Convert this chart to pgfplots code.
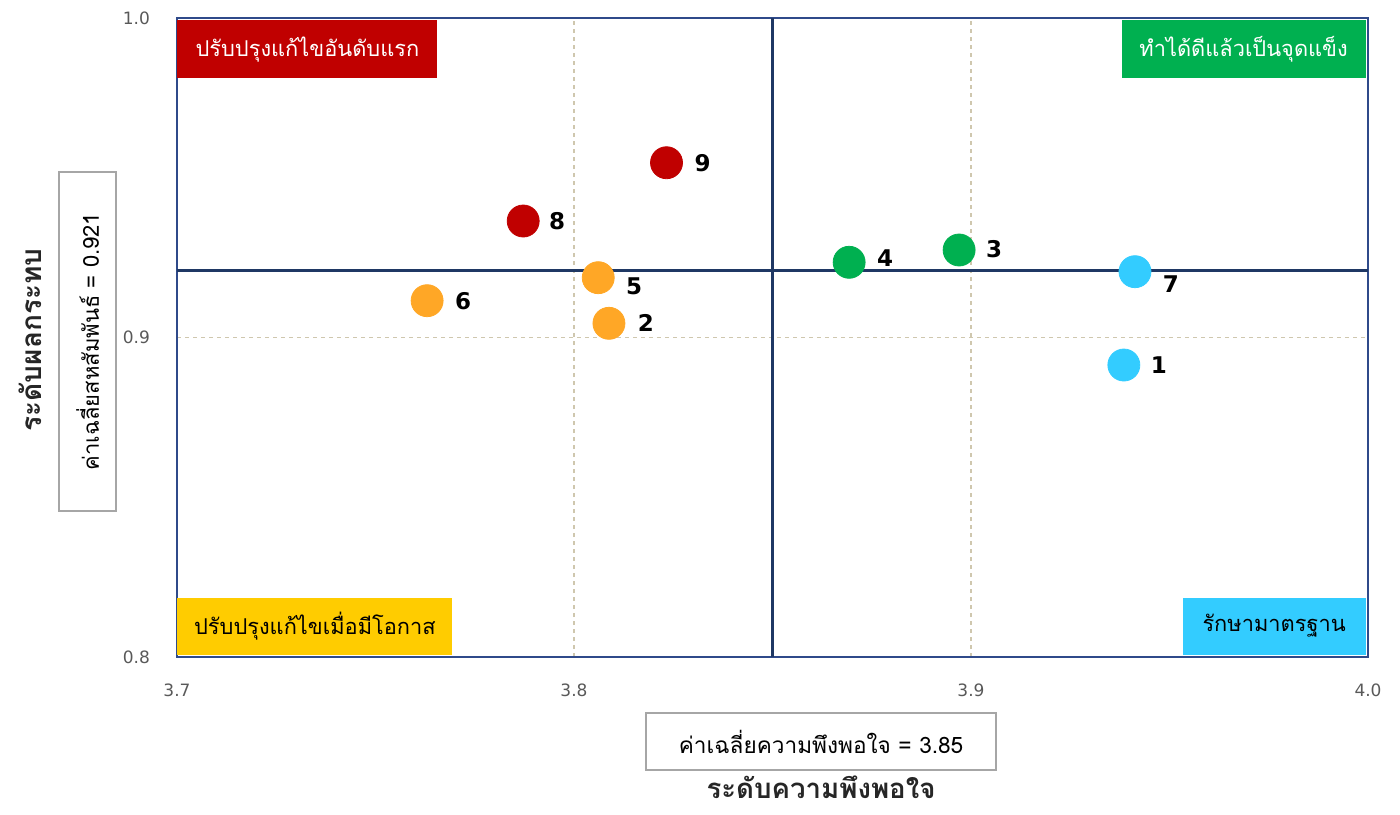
\documentclass[border=0pt]{standalone}
\usepackage{pgfplots}
\usepackage{pgfplotstable}
\pgfplotsset{compat=1.18}
\usepackage{fontspec}
\setmainfont{DejaVu Sans}
\newfontfamily\thai[Script=Thai]{Loma}

\definecolor{cRed}{HTML}{C00000}
\definecolor{cGreen}{HTML}{00B050}
\definecolor{cYellow}{HTML}{FFCC00}
\definecolor{cCyan}{HTML}{33CCFF}
\definecolor{cOrange}{HTML}{FFA726}
\definecolor{cNavy}{HTML}{1F3864}
\definecolor{cFrame}{HTML}{2F4A8A}
\definecolor{cGrid}{HTML}{CFC7AE}
\definecolor{cTick}{HTML}{595959}
\definecolor{cBox}{HTML}{A6A6A6}

% item, satisfaction (x), impact (y), label offset (dx, dy in px)
\pgfplotstableread{
x      y       id dx dy
3.7872 0.93646 8  34 0
3.8233 0.95470 9  36 0
}\tRed
\pgfplotstableread{
x      y       id dx dy
3.8088 0.90444 2  37 0
3.8061 0.91872 5  36 -9
3.7630 0.91152 6  36 0
}\tOrange
\pgfplotstableread{
x      y       id dx dy
3.8970 0.92739 3  35 1
3.8693 0.92354 4  36 4
}\tGreen
\pgfplotstableread{
x      y       id dx dy
3.9385 0.89139 1  35 0
3.9413 0.92060 7  36 -12
}\tCyan

\pgfplotsset{
  pts/.style={
    only marks, mark=*, mark size=8pt, color=#1,
    nodes near coords, point meta=explicit symbolic,
    visualization depends on={\thisrow{dx}\as\dx},
    visualization depends on={\thisrow{dy}\as\dy},
    every node near coord/.append style={
      anchor=center, xshift=\dx*0.5pt, yshift=\dy*0.5pt,
      text=black, font=\bfseries\fontsize{11.5}{12}\selectfont, inner sep=0pt},
  },
}

\begin{document}
\begin{tikzpicture}
\begin{axis}[
  width=595.5pt, height=319.5pt, scale only axis,
  xmin=3.7, xmax=4.0, ymin=0.8, ymax=1.0,
  xtick={3.7,3.8,3.9,4.0}, ytick={0.8,0.9,1.0},
  xticklabels={3.7,3.8,3.9,4.0}, yticklabels={0.8,0.9,1.0},
  major tick length=0pt,
  grid=major,
  major grid style={draw=cGrid, line width=0.6pt, dash pattern=on 2pt off 2pt},
  axis line style={draw=cFrame, line width=0.8pt},
  ticklabel style={font=\fontsize{8.5}{9}\selectfont, text=cTick},
  xticklabel style={yshift=-10pt},
  yticklabel style={xshift=-10pt},
  clip=false,
]
  % bounding frame of the whole figure
  \path (rel axis cs:-0.148615,-0.245696) rectangle (rel axis cs:1.026868,1.028169);

  % mean lines
  \addplot[draw=cNavy, line width=1.5pt] coordinates {(3.85,0.8) (3.85,1.0)};
  \addplot[draw=cNavy, line width=1.5pt] coordinates {(3.7,0.921) (4.0,0.921)};

  \addplot[pts=cRed]    table[x=x, y=y, meta=id] {\tRed};
  \addplot[pts=cOrange] table[x=x, y=y, meta=id] {\tOrange};
  \addplot[pts=cGreen]  table[x=x, y=y, meta=id] {\tGreen};
  \addplot[pts=cCyan]   table[x=x, y=y, meta=id] {\tCyan};

  % quadrant captions
  \node[fill=cRed, text=white, anchor=north west, minimum width=130pt, minimum height=29pt,
        inner sep=0pt, font=\thai\fontsize{10.9}{13}\selectfont]
        at ([yshift=-1pt]rel axis cs:0,1) {ปรับปรุงแก้ไขอันดับแรก};
  \node[fill=cGreen, text=white, anchor=north east, minimum width=122pt, minimum height=29pt,
        inner sep=0pt, font=\thai\fontsize{10.9}{13}\selectfont]
        at ([xshift=-1pt,yshift=-1pt]rel axis cs:1,1) {ทำได้ดีแล้วเป็นจุดแข็ง};
  \node[fill=cYellow, text=black, anchor=south west, minimum width=137.5pt, minimum height=28.5pt,
        inner sep=0pt, font=\thai\fontsize{10.9}{13}\selectfont]
        at ([yshift=1pt]rel axis cs:0,0) {ปรับปรุงแก้ไขเมื่อมีโอกาส};
  \node[fill=cCyan, text=black, anchor=south east, minimum width=91.5pt, minimum height=28.5pt,
        inner sep=0pt, font=\thai\fontsize{10.9}{13}\selectfont]
        at ([xshift=-1pt,yshift=1pt]rel axis cs:1,0) {รักษามาตรฐาน};

  % mean boxes and axis titles
  \node[draw=cBox, line width=0.6pt, fill=white, minimum width=175pt, minimum height=28.5pt,
        inner sep=0pt, font=\thai\fontsize{11.3}{13}\selectfont]
        at (rel axis cs:0.54072,-0.13224) {ค่าเฉลี่ยความพึงพอใจ = 3.85};
  \node[draw=cBox, line width=0.6pt, fill=white, minimum width=169.5pt, minimum height=28.5pt,
        inner sep=0pt, rotate=90, font=\thai\fontsize{11}{13}\selectfont]
        at (rel axis cs:-0.07515,0.49374) {ค่าเฉลี่ยสหสัมพันธ์ = 0.921};
  \node[inner sep=0pt, font=\thai\bfseries\fontsize{13.8}{15}\selectfont, text=black!85]
        at (rel axis cs:0.54072,-0.204) {ระดับความพึงพอใจ};
  \node[inner sep=0pt, rotate=90, font=\thai\bfseries\fontsize{14}{15}\selectfont, text=black!85]
        at (rel axis cs:-0.1235,0.49609) {ระดับผลกระทบ};
\end{axis}
\end{tikzpicture}
\end{document}
